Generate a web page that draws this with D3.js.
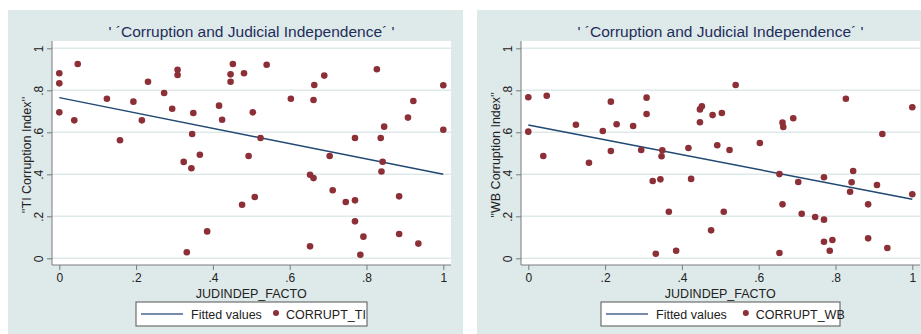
<!DOCTYPE html>
<html>
<head>
<meta charset="utf-8">
<script src="https://cdn.jsdelivr.net/npm/d3@7"></script>
<style>
  html, body { margin: 0; padding: 0; background: #ffffff; }
  svg { display: block; font-family: "Liberation Sans", Arial, sans-serif; }
</style>
</head>
<body>
<svg id="chart" width="921" height="334"></svg>
<script>
// Judicial independence (de facto) vs. two corruption indices
const xTicks = [0, 0.2, 0.4, 0.6, 0.8, 1];
const yTicks = [0, 0.2, 0.4, 0.6, 0.8, 1];
const tickLabels = ["0", ".2", ".4", ".6", ".8", "1"];

const titleText = "' \u00B4Corruption and Judicial Independence\u00B4 '";
const xTitle = "JUDINDEP_FACTO";

// Transparency International panel
const tiX = [0, 0, 0, 0.048, 0.039, 0.124, 0.158, 0.193, 0.215, 0.231,
  0.273, 0.294, 0.308, 0.308, 0.324, 0.332, 0.344, 0.346, 0.349, 0.366,
  0.385, 0.416, 0.424, 0.446, 0.446, 0.452, 0.481, 0.540, 0.504, 0.524,
  0.493, 0.509, 0.476, 0.603, 0.664, 0.662, 0.690, 0.704, 0.653, 0.662,
  0.712, 0.746, 0.770, 0.770, 0.770, 0.792, 0.784, 0.653, 0.827, 0.837,
  0.846, 0.842, 0.839, 0.885, 0.885, 0.908, 0.922, 0.935, 1.0, 1.0];
const tiY = [0.881, 0.833, 0.695, 0.925, 0.657, 0.760, 0.562, 0.746, 0.657, 0.841,
  0.787, 0.712, 0.898, 0.873, 0.459, 0.029, 0.429, 0.592, 0.692, 0.493,
  0.128, 0.727, 0.660, 0.876, 0.841, 0.925, 0.881, 0.922, 0.695, 0.573,
  0.487, 0.292, 0.255, 0.760, 0.825, 0.754, 0.870, 0.487, 0.398, 0.382,
  0.324, 0.268, 0.276, 0.573, 0.176, 0.103, 0.017, 0.057, 0.900, 0.573,
  0.627, 0.460, 0.413, 0.295, 0.116, 0.670, 0.749, 0.070, 0.824, 0.612];
const tiFitX = [0, 1];
const tiFitY = [0.765, 0.400];

// World Bank panel
const wbX = [0, 0, 0.048, 0.039, 0.124, 0.158, 0.194, 0.215, 0.215, 0.230,
  0.273, 0.294, 0.308, 0.308, 0.324, 0.332, 0.344, 0.347, 0.349, 0.366,
  0.385, 0.417, 0.424, 0.447, 0.452, 0.447, 0.480, 0.504, 0.540, 0.492,
  0.524, 0.476, 0.509, 0.603, 0.662, 0.664, 0.690, 0.654, 0.703, 0.662,
  0.712, 0.747, 0.770, 0.770, 0.770, 0.792, 0.785, 0.654, 0.827, 0.846,
  0.842, 0.838, 0.885, 0.885, 0.908, 0.922, 0.935, 1.0, 1.0];
const wbY = [0.767, 0.603, 0.774, 0.487, 0.636, 0.455, 0.606, 0.746, 0.511, 0.638,
  0.630, 0.516, 0.765, 0.687, 0.368, 0.022, 0.376, 0.486, 0.514, 0.222,
  0.036, 0.525, 0.378, 0.709, 0.724, 0.648, 0.682, 0.692, 0.825, 0.538,
  0.516, 0.133, 0.222, 0.549, 0.646, 0.625, 0.667, 0.401, 0.363, 0.257,
  0.212, 0.197, 0.184, 0.386, 0.079, 0.087, 0.036, 0.025, 0.760, 0.416,
  0.362, 0.317, 0.257, 0.095, 0.349, 0.592, 0.049, 0.719, 0.305];
const wbFitX = [0, 1];
const wbFitY = [0.635, 0.281];

const panels = [
  { left: 8, right: 463, plotL: 52, plotR: 451, x0: 59.3, x1: 443.3,
    xs: tiX, ys: tiY, fx: tiFitX, fy: tiFitY,
    yTitle: "''TI Corruption Index''", series: "CORRUPT_TI",
    legL: 136, legR: 367 },
  { left: 477, right: 921, plotL: 521, plotR: 920, x0: 528.3, x1: 912.3,
    xs: wbX, ys: wbY, fx: wbFitX, fy: wbFitY,
    yTitle: "''WB Corruption Index''", series: "CORRUPT_WB",
    legL: 601, legR: 840 }
];

const svg = d3.select("#chart");
const bg = "#dee9ea";
const navy = "#1f4872";
const maroon = "#8c2f37";
const axisGray = "#7a7a7a";
const textCol = "#222222";

panels.forEach(p => {
  const g = svg.append("g");
  const x = d3.scaleLinear().domain([0, 1]).range([p.x0, p.x1]);
  const y = d3.scaleLinear().domain([0, 1]).range([258.3, 48.3]);
  const plotTop = 41, plotBottom = 265;

  // graph region and plot region
  g.append("rect").attr("x", p.left).attr("y", 10)
    .attr("width", p.right - p.left).attr("height", 324).attr("fill", bg);
  g.append("rect").attr("x", p.plotL).attr("y", plotTop)
    .attr("width", p.plotR - p.plotL).attr("height", plotBottom - plotTop).attr("fill", "#ffffff");

  // horizontal grid lines
  g.selectAll("line.grid").data(yTicks).join("line")
    .attr("class", "grid")
    .attr("x1", p.plotL).attr("x2", p.plotR)
    .attr("y1", d => y(d)).attr("y2", d => y(d))
    .attr("stroke", bg).attr("stroke-width", 1.6);

  // title
  g.append("text").attr("x", (p.plotL + p.plotR) / 2).attr("y", 37)
    .attr("text-anchor", "middle").attr("font-size", 15.5)
    .attr("fill", "#1e2d5a").text(titleText);

  // y axis (rotated tick labels)
  const yAxis = d3.axisLeft(y).tickValues(yTicks).tickSize(5)
    .tickFormat((d, i) => tickLabels[i]);
  const ya = g.append("g").attr("transform", `translate(${p.plotL},0)`).call(yAxis);
  ya.select(".domain").attr("stroke", axisGray).attr("d", `M0,${plotTop}V${plotBottom}`);
  ya.selectAll(".tick line").attr("stroke", axisGray);
  ya.selectAll(".tick text")
    .attr("font-size", 12).attr("fill", textCol)
    .attr("x", null).attr("dy", null)
    .attr("text-anchor", "middle")
    .attr("transform", "translate(-9,0) rotate(-90)");

  // x axis
  const xAxis = d3.axisBottom(x).tickValues(xTicks).tickSize(5)
    .tickFormat((d, i) => tickLabels[i]);
  const xa = g.append("g").attr("transform", `translate(0,${plotBottom})`).call(xAxis);
  xa.select(".domain").attr("stroke", axisGray).attr("d", `M${p.plotL},0H${p.plotR}`);
  xa.selectAll(".tick line").attr("stroke", axisGray);
  xa.selectAll(".tick text").attr("font-size", 12).attr("fill", textCol).attr("y", 8);

  // axis titles
  g.append("text").attr("x", (p.x0 + p.x1) / 2).attr("y", 298)
    .attr("text-anchor", "middle").attr("font-size", 12.5).attr("fill", textCol).text(xTitle);
  g.append("text")
    .attr("transform", `translate(${p.plotL - 21},${(plotTop + plotBottom) / 2 + 2}) rotate(-90)`)
    .attr("text-anchor", "middle").attr("font-size", 12.5).attr("fill", textCol).text(p.yTitle);

  // fitted line
  const fit = d3.line().x(d => x(d[0])).y(d => y(d[1]));
  g.append("path").datum(d3.zip(p.fx, p.fy)).attr("d", fit)
    .attr("fill", "none").attr("stroke", navy).attr("stroke-width", 1.4);

  // scatter
  g.selectAll("circle.pt").data(d3.zip(p.xs, p.ys)).join("circle")
    .attr("class", "pt")
    .attr("cx", d => x(d[0])).attr("cy", d => y(d[1])).attr("r", 3.3)
    .attr("fill", maroon);

  // legend
  const ly = 302, lh = 24, mid = ly + lh / 2;
  g.append("rect").attr("x", p.legL).attr("y", ly).attr("width", p.legR - p.legL).attr("height", lh)
    .attr("fill", "#ffffff").attr("stroke", "#555555").attr("stroke-width", 1);
  g.append("line").attr("x1", p.legL + 5).attr("x2", p.legL + 47).attr("y1", mid).attr("y2", mid)
    .attr("stroke", "#4a6690").attr("stroke-width", 1.4);
  g.append("text").attr("x", p.legL + 55).attr("y", mid + 4.5).attr("font-size", 12.5)
    .attr("fill", textCol).text("Fitted values");
  const mx = p.legL + (p.legR - p.legL) * 0.606;
  g.append("circle").attr("cx", mx).attr("cy", mid - 1).attr("r", 3).attr("fill", maroon);
  g.append("text").attr("x", mx + 10).attr("y", mid + 4.5).attr("font-size", 12.5)
    .attr("fill", textCol).text(p.series);
});
</script>
</body>
</html>
